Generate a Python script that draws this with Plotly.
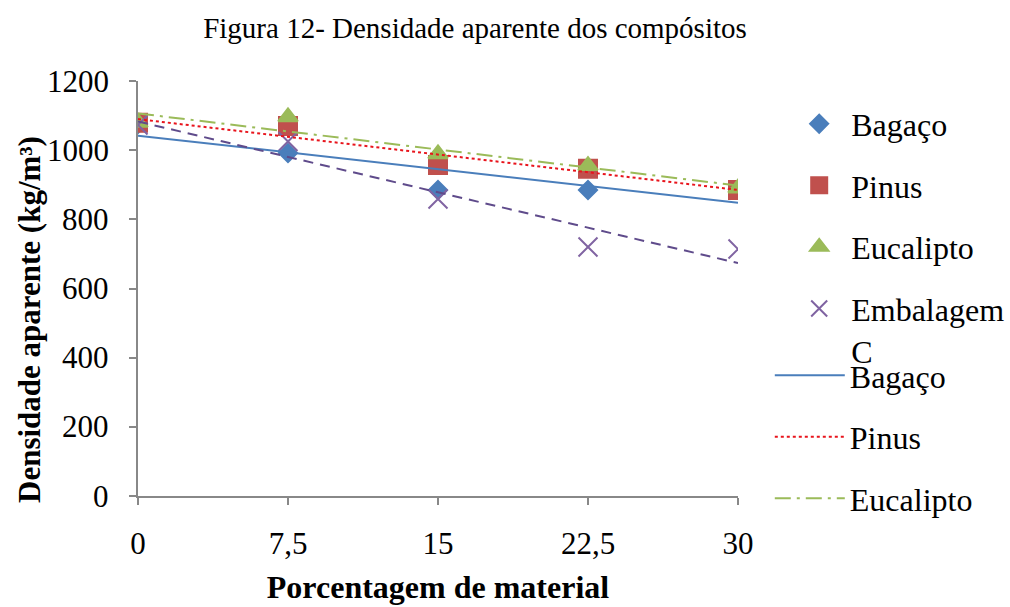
import numpy as np
import plotly.graph_objects as go

x_vals = [0, 7.5, 15, 22.5, 30]
x_labels = ["0", "7,5", "15", "22,5", "30"]
bagaco = [1076, 992, 885, 885, 887]
pinus = [1079, 1070, 957, 946, 885]
eucalipto = [1080, 1096, 989, 955, 890]
embalagem = [1073, 1025, 859, 720, 714]
y_ticks = [0, 200, 400, 600, 800, 1000, 1200]

FONT = "Liberation Serif"

fig = go.Figure()

markers = [
    ("Bagaço", bagaco, "diamond", "#4a7ebb", 14),
    ("Pinus", pinus, "square", "#c0504d", 18),
    ("Eucalipto", eucalipto, "triangle-up", "#9bbb59", 17),
    ("Embalagem<br>C", embalagem, "x-thin", "#8064a2", 19),
]
for i, (name, ys, sym, col, sz) in enumerate(markers):
    fig.add_trace(go.Scatter(
        x=x_vals, y=ys, mode="markers", name=name, legendgroup=f"g{i}",
        legend="legend",
        marker=dict(symbol=sym, color=col, size=sz,
                    line=dict(color=col, width=2)),
    ))

trends = [
    ("Bagaço", bagaco, "#4a7ebb", "solid", True),
    ("Pinus", pinus, "#e8141c", "dot", True),
    ("Eucalipto", eucalipto, "#9bbb59", "16px,6px,3px,6px", True),
    ("Embalagem C", embalagem, "#5f4b8b", "10px,7px", False),
]
xs = np.array(x_vals, dtype=float)
for j, (name, ys, col, dash, show) in enumerate(trends):
    m, b = np.polyfit(xs, np.array(ys, dtype=float), 1)
    xt = [xs[0], xs[-1]]
    yt = [m * xs[0] + b, m * xs[-1] + b]
    fig.add_trace(go.Scatter(
        x=xt, y=yt, mode="lines", name=name, legendgroup=f"t{j}",
        showlegend=show, legend="legend2",
        line=dict(color=col, width=2, dash=dash),
    ))

leg_common = dict(font=dict(family=FONT, size=32, color="black"),
                  tracegroupgap=17, traceorder="grouped", valign="top",
                  bgcolor="rgba(0,0,0,0)", maxheight=1.0)

# y tick labels as text placed at the axis' own tick values
ytick_annots = [dict(
    text=str(t), xref="paper", yref="y", x=0, y=t, xanchor="right",
    yanchor="middle", xshift=-27, showarrow=False,
    font=dict(family=FONT, size=31, color="black"),
) for t in y_ticks]

fig.update_layout(
    width=1010, height=607,
    margin=dict(l=138, r=272, t=81, b=111, autoexpand=False),
    paper_bgcolor="white", plot_bgcolor="white",
    font=dict(family=FONT, color="black", size=32),
    title=dict(text="Figura 12- Densidade aparente dos compósitos",
               x=475 / 1010, xanchor="center", y=1 - 28 / 607, yanchor="middle",
               font=dict(family=FONT, size=29, color="black")),
    legend=dict(x=1.082, xanchor="left", y=0.963, yanchor="top",
                itemwidth=54, **leg_common),
    legend2=dict(x=1.053, xanchor="left", y=0.357, yanchor="top",
                 itemwidth=70, **leg_common),
    showlegend=True,
    annotations=[dict(
        text="<b>Densidade aparente (kg/m³)</b>", textangle=-90,
        xref="paper", yref="paper", x=(29 - 138) / 600, y=(496 - 320) / 415,
        xanchor="center", yanchor="middle", showarrow=False,
        font=dict(family=FONT, size=31, color="black"),
    )] + ytick_annots,
)
fig.update_xaxes(
    range=[0, 30], tickvals=x_vals, ticktext=x_labels,
    showline=True, linecolor="#888888", linewidth=1.5,
    ticks="outside", tickcolor="#888888", ticklen=7, tickwidth=1.5,
    showgrid=False, zeroline=False, ticklabelstandoff=12,
    tickfont=dict(family=FONT, size=31),
    title=dict(text="<b>Porcentagem de material</b>",
               font=dict(family=FONT, size=32), standoff=16),
)
fig.update_yaxes(
    range=[0, 1200], tickvals=y_ticks, showticklabels=False,
    showline=True, linecolor="#888888", linewidth=1.5,
    ticks="outside", tickcolor="#888888", ticklen=7, tickwidth=1.5,
    showgrid=False, zeroline=False,
)

fig.write_html("out.html")
